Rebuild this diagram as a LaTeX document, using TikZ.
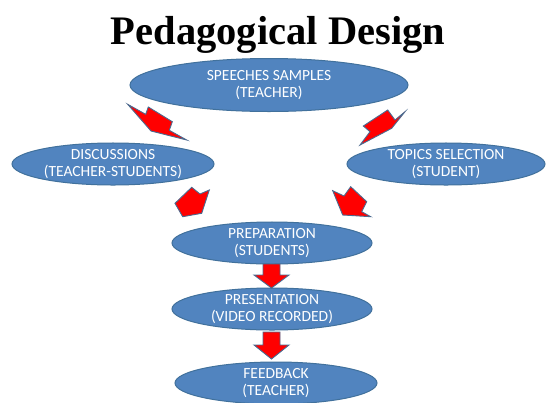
\documentclass[tikz,border=0pt]{standalone}
\usepackage{fontspec}
\setmainfont{Carlito}
\newfontfamily\titlefont{Liberation Serif}
\usetikzlibrary{shapes.geometric}
\definecolor{ellfill}{HTML}{5184BF}
\definecolor{ellline}{HTML}{41719C}
\definecolor{arrline}{HTML}{4A6A8F}
\definecolor{arrred}{HTML}{FF0000}
\begin{document}
\begin{tikzpicture}[x=1pt,y=-1pt,
  oval/.style={ellipse, draw=ellline, line width=1pt, fill=ellfill, text=white,
    inner sep=0pt, align=center, font=\fontsize{15.5}{17.5}\selectfont},
  blockarrow/.style={fill=arrred, draw=arrline, line width=0.9pt, line join=miter}]
\useasboundingbox (0,0) rectangle (556,402);
\clip (0,0) rectangle (556,402);
\fill[white] (0,0) rectangle (556,402);
\node[font=\titlefont\bfseries\fontsize{40.5}{44}\selectfont, anchor=base, inner sep=0pt] (title) at (278,44) {Pedagogical Design};
\node[oval, minimum width=278pt, minimum height=53pt] (ss) at (269,85) {SPEECHES SAMPLES\\(TEACHER)};
\node[oval, minimum width=202pt, minimum height=42pt] (disc) at (113,164) {DISCUSSIONS\\(TEACHER-STUDENTS)};
\node[oval, minimum width=198pt, minimum height=42pt] (topic) at (446,164) {TOPICS SELECTION\\(STUDENT)};
\node[oval, minimum width=200pt, minimum height=40pt] (prep) at (272,243) {PREPARATION\\(STUDENTS)};
\node[oval, minimum width=200pt, minimum height=42pt] (pres) at (272,309) {PRESENTATION\\(VIDEO RECORDED)};
\node[oval, minimum width=202pt, minimum height=40pt] (feed) at (276,383) {FEEDBACK\\(TEACHER)};
% diagonal block arrows
\draw[blockarrow] (127.7,104.3) -- (145.7,114.3) -- (148.3,107) -- (172.3,121.7) -- (169.3,130.3) -- (186.7,140) -- (151,131) -- cycle;
\draw[blockarrow] (405,111.7) -- (395,120) -- (387.7,110) -- (363.3,126) -- (370,131.7) -- (360,145) -- (391.7,128.3) -- cycle;
\draw[blockarrow] (191.7,187.3) -- (200,194) -- (209.3,190) -- (201.7,213.3) -- (182.7,216.7) -- (175,203.3) -- cycle;
\draw[blockarrow] (332.7,190.7) -- (344,196) -- (350.7,186.7) -- (366.7,201.7) -- (361.7,211.7) -- (370.7,216.7) -- (342.7,215) -- cycle;
% vertical block arrows
\draw[blockarrow] (263,264) -- (280,264) -- (280,275) -- (289,275) -- (271.5,288) -- (254,275) -- (263,275) -- cycle;
\draw[blockarrow] (263,332) -- (280,332) -- (280,345) -- (289,345) -- (271.5,359) -- (254,345) -- (263,345) -- cycle;
\end{tikzpicture}
\end{document}
